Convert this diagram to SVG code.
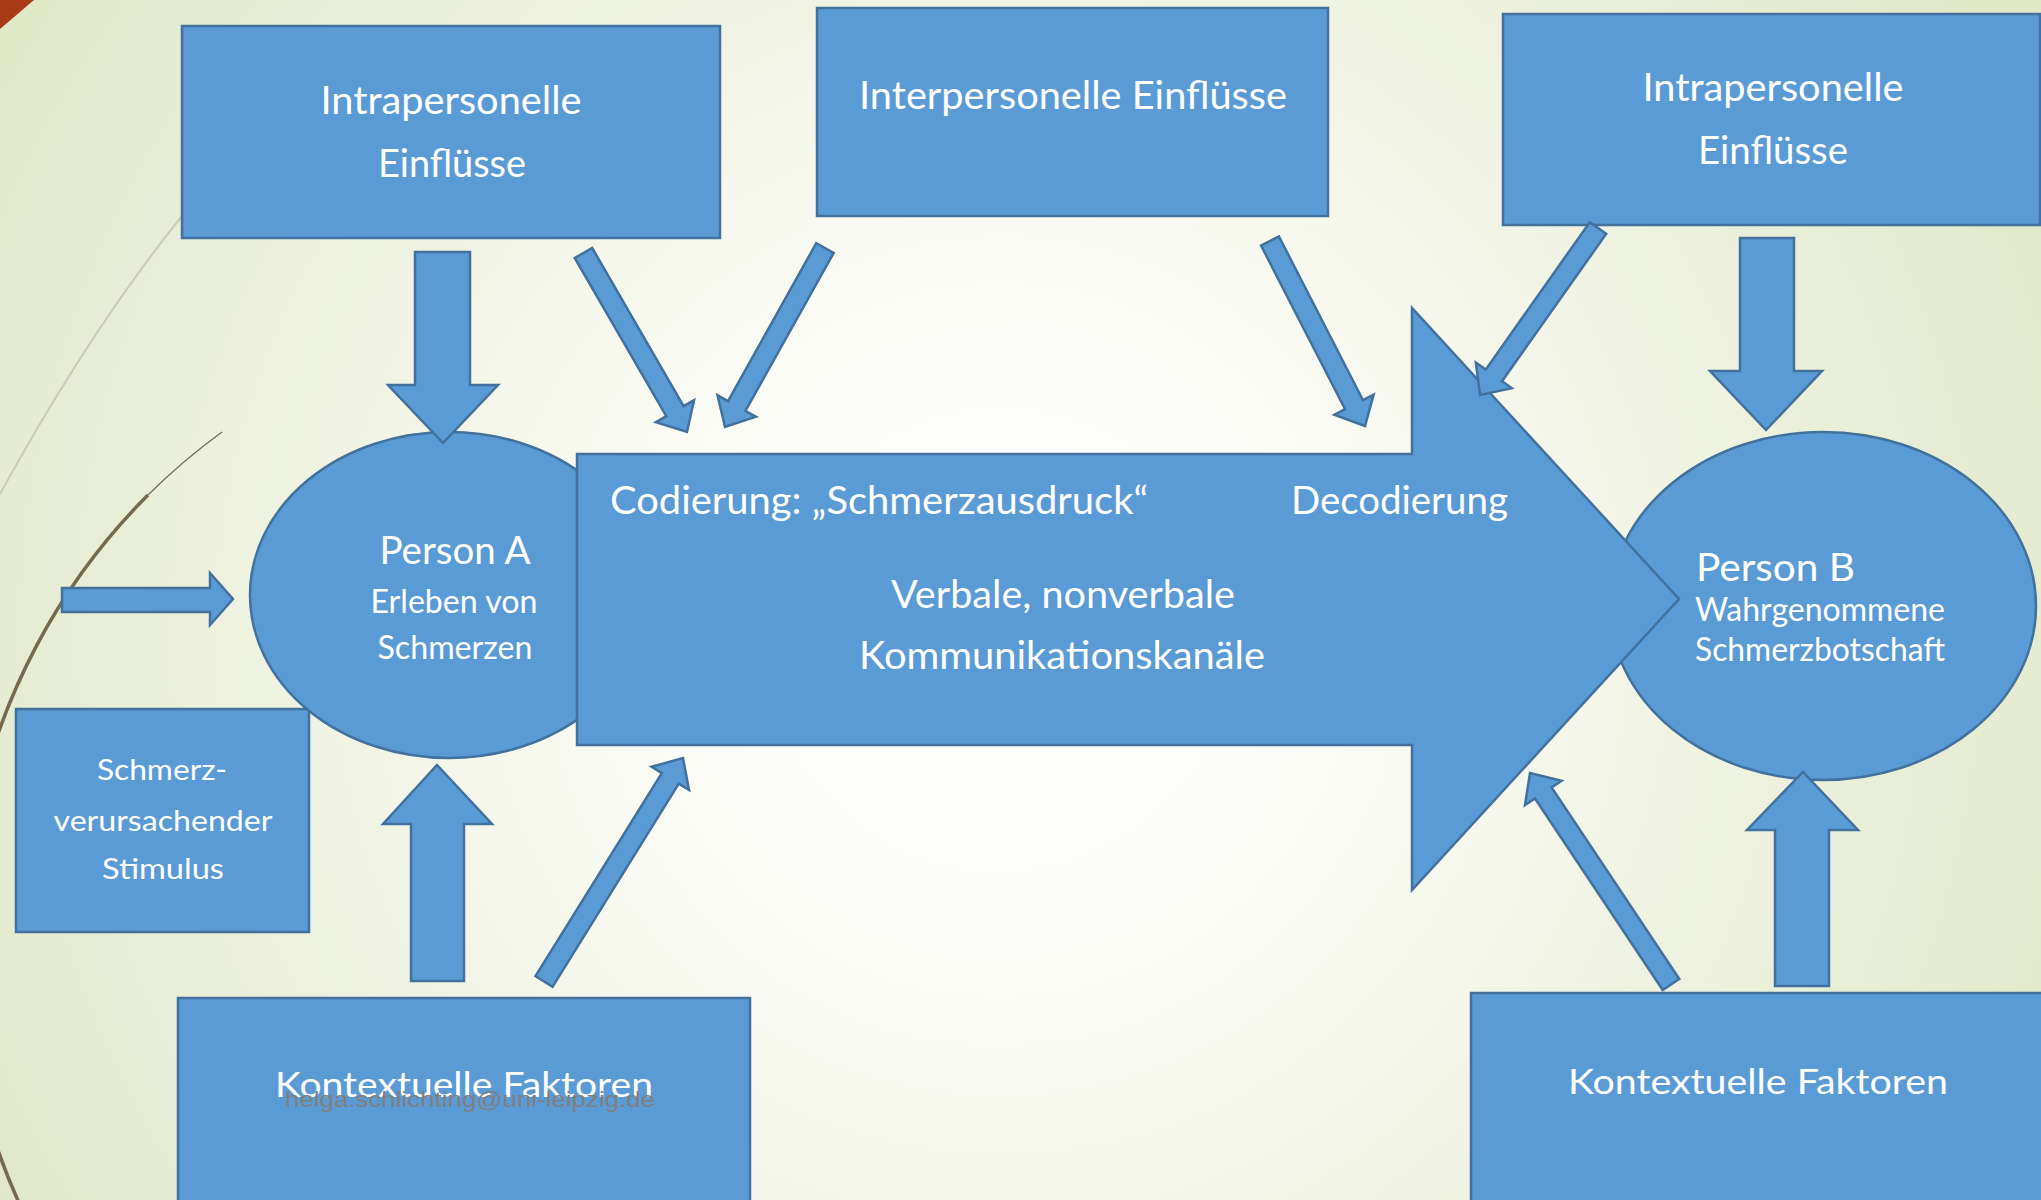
<svg xmlns="http://www.w3.org/2000/svg" width="2041" height="1200" viewBox="0 0 2041 1200">
<defs>
<radialGradient id="bg" gradientUnits="userSpaceOnUse" cx="1000" cy="640" r="1150">
<stop offset="0" stop-color="#ffffff"/>
<stop offset="0.3" stop-color="#fbfcf6"/>
<stop offset="0.65" stop-color="#eef2e0"/>
<stop offset="1" stop-color="#e0e8c8"/>
</radialGradient>
<style>
.shape{fill:#5b9bd5;stroke:#41719c;stroke-width:2.5}
.t{fill:#ffffff;font-family:Lato,"Open Sans","Liberation Sans",sans-serif;text-anchor:middle}
.big{font-size:38px}
.mid{font-size:32px}
.sm{font-size:29px}
</style>
</defs>
<rect x="0" y="0" width="2041" height="1200" fill="url(#bg)"/>
<g id="decor">
<path d="M0,0 L34,0 L0,29 Z" fill="#a83a17"/>
<path d="M182,216 Q90,330 0,494" fill="none" stroke="#c8cbb5" stroke-width="2"/>
<path d="M222,432 A632,632 0 0 0 148,495" fill="none" stroke="#756a4e" stroke-width="1.3"/>
<path d="M148,495 A632,632 0 0 0 20,1205" fill="none" stroke="#756a4e" stroke-width="3.5"/>
</g>
<g id="intra-left">
<rect class="shape" x="182" y="26" width="538" height="212"/>
<text class="t big" x="451" y="114" textLength="261" lengthAdjust="spacingAndGlyphs">Intrapersonelle</text>
<text class="t big" x="452" y="177" textLength="148" lengthAdjust="spacingAndGlyphs">Einflüsse</text>
</g>
<g id="inter">
<rect class="shape" x="817" y="8" width="511" height="208"/>
<text class="t big" x="1073" y="109" textLength="428" lengthAdjust="spacingAndGlyphs">Interpersonelle Einflüsse</text>
</g>
<g id="intra-right">
<rect class="shape" x="1503" y="14" width="537" height="211"/>
<text class="t big" x="1773" y="101" textLength="261" lengthAdjust="spacingAndGlyphs">Intrapersonelle</text>
<text class="t big" x="1773" y="164" textLength="150" lengthAdjust="spacingAndGlyphs">Einflüsse</text>
</g>
<g id="stimulus">
<rect class="shape" x="16" y="709" width="293" height="223"/>
<text class="t sm" x="162" y="780" textLength="130" lengthAdjust="spacingAndGlyphs">Schmerz-</text>
<text class="t sm" x="163" y="831" textLength="219" lengthAdjust="spacingAndGlyphs">verursachender</text>
<text class="t sm" x="163" y="879" textLength="122" lengthAdjust="spacingAndGlyphs">Stimulus</text>
</g>
<g id="kontext-left">
<rect class="shape" x="178" y="998" width="572" height="210"/>
<text class="t" style="font-size:34px" x="464" y="1097" textLength="378" lengthAdjust="spacingAndGlyphs">Kontextuelle Faktoren</text>
<text x="470" y="1107" text-anchor="middle" font-family="'Liberation Sans',sans-serif" font-size="22" fill="#7f7f7f" textLength="370" lengthAdjust="spacingAndGlyphs">helga.schlichting@uni-leipzig.de</text>
</g>
<g id="kontext-right">
<rect class="shape" x="1471" y="993" width="575" height="215"/>
<text class="t" style="font-size:34px" x="1758" y="1094" textLength="380" lengthAdjust="spacingAndGlyphs">Kontextuelle Faktoren</text>
</g>
<g id="person-a">
<ellipse class="shape" cx="449" cy="595" rx="199" ry="163"/>
<text class="t big" x="455" y="564" textLength="151" lengthAdjust="spacingAndGlyphs">Person A</text>
<text class="t mid" x="454" y="613" textLength="167" lengthAdjust="spacingAndGlyphs">Erleben von</text>
<text class="t mid" x="455" y="659" textLength="155" lengthAdjust="spacingAndGlyphs">Schmerzen</text>
</g>
<g id="person-b">
<ellipse class="shape" cx="1823" cy="606" rx="213" ry="174"/>
<text class="t big" x="1696" y="581" style="text-anchor:start" textLength="159" lengthAdjust="spacingAndGlyphs">Person B</text>
<text class="t mid" x="1695" y="621" style="text-anchor:start" textLength="250" lengthAdjust="spacingAndGlyphs">Wahrgenommene</text>
<text class="t mid" x="1695" y="661" style="text-anchor:start" textLength="250" lengthAdjust="spacingAndGlyphs">Schmerzbotschaft</text>
</g>
<g id="channel">
<polygon class="shape" points="577,454 1412,454 1412,308 1679,599 1412,890 1412,745 577,745"/>
<text class="t big" x="610" y="514" style="text-anchor:start" textLength="538" lengthAdjust="spacingAndGlyphs">Codierung: „Schmerzausdruck“</text>
<text class="t big" x="1291" y="514" style="text-anchor:start" textLength="217" lengthAdjust="spacingAndGlyphs">Decodierung</text>
<text class="t big" x="1063" y="608" textLength="344" lengthAdjust="spacingAndGlyphs">Verbale, nonverbale</text>
<text class="t big" x="1062" y="669" textLength="406" lengthAdjust="spacingAndGlyphs">Kommunikationskanäle</text>
</g>
<g id="connectors">
<polygon class="shape" points="62,588 210,588 210,573 233,599 210,625 210,612 62,612"/>
<polygon class="shape" points="415,252 470,252 470,385 498,385 443,443 388,385 415,385"/>
<polygon class="shape" points="411,981 411,824 383,824 437,765 492,824 464,824 464,981"/>
<polygon class="shape" points="1740,238 1794,238 1794,371 1822,371 1766,430 1710,371 1740,371"/>
<polygon class="shape" points="1775,986 1775,830 1747,830 1803,772 1858,830 1829,830 1829,986"/>
<polygon class="shape" points="574.8,258 666.3,416.2 655.9,422.2 687,432 694,400.2 683.6,406.2 592.2,248"/>
<polygon class="shape" points="816.3,243.1 728,401.2 717.5,395.3 725,427 755.9,416.8 745.4,410.9 833.7,252.9"/>
<polygon class="shape" points="1261.1,245.6 1345.1,409.2 1334.5,414.7 1365,426 1373.6,394.6 1362.9,400.1 1278.9,236.4"/>
<polygon class="shape" points="1589.8,222.2 1485.7,369.6 1475.9,362.7 1480,395 1511.8,388.1 1502,381.2 1606.2,233.8"/>
<polygon class="shape" points="552.5,986.8 678.8,783.7 689,790 683,758 651.6,766.8 661.8,773.1 535.5,976.2"/>
<polygon class="shape" points="1679.3,979 1551.6,787.4 1561.6,780.8 1530,773 1525,805.2 1535,798.5 1662.7,990"/>
</g>
</svg>
